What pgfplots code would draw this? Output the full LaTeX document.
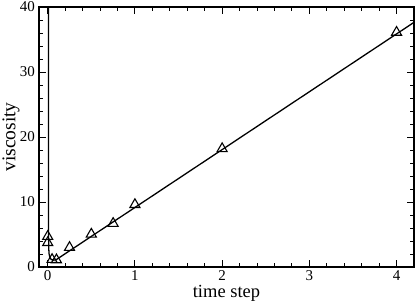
\documentclass[border=0pt]{standalone}
\usepackage{pgfplots}
\pgfplotsset{compat=1.18}
\usepackage{fontspec}
\setmainfont{Liberation Serif}
\begin{document}
\begin{tikzpicture}
\begin{axis}[
  at={(0,0)}, anchor=south west,
  scale only axis, width=375pt, height=260pt,
  xmin=-0.1, xmax=4.2, ymin=0, ymax=40,
  xtick={0,1,2,3,4}, ytick={0,10,20,30,40},
  minor x tick num=4, minor y tick num=4,
  tick align=inside, tick pos=both,
  major tick length=7pt, minor tick length=4pt,
  axis line style={line width=1.5pt},
  every tick/.style={line width=1pt, black},
  ticklabel style={font=\fontsize{15}{17}\selectfont, inner sep=0pt},
  /pgf/number format/assume math mode=true,
  xticklabel style={anchor=base, yshift=-13.3pt},
  yticklabel style={anchor=east, xshift=-4pt},
  xlabel={time step}, ylabel={viscosity},
  xlabel style={font=\fontsize{18.5}{20}\selectfont, inner sep=0pt, at={(axis description cs:0.5,0)}, anchor=base, yshift=-30pt},
  ylabel style={font=\fontsize{19.5}{22}\selectfont, inner sep=0pt, at={(axis description cs:0,0.5)}, anchor=base, yshift=23.5pt},
  clip=true,
]
\addplot[black, line width=1.3pt, no marks] coordinates {
(0.008,41) (0.0085,20) (0.009,10) (0.01,4.5) (0.012,2.8) (0.016,2.0) (0.025,1.5) (0.04,1.15) (0.07,1.05) (0.1,1.15) (0.2,2.04) (1,9.16) (2,18.06) (4.2,37.64)
};
\addplot[black, only marks, mark=triangle, mark size=5.8pt, mark options={line width=1.1pt, fill=none}] coordinates {
(0,4.7) (0,3.75) (0.05,1.15) (0.1,1.1) (0.25,3.0) (0.5,5.05) (0.75,6.7) (1,9.6) (2,18.2) (4,36.1)
};
\end{axis}
\path[use as bounding box] (-39pt,-36pt) rectangle (376pt,267pt);
\end{tikzpicture}
\end{document}
